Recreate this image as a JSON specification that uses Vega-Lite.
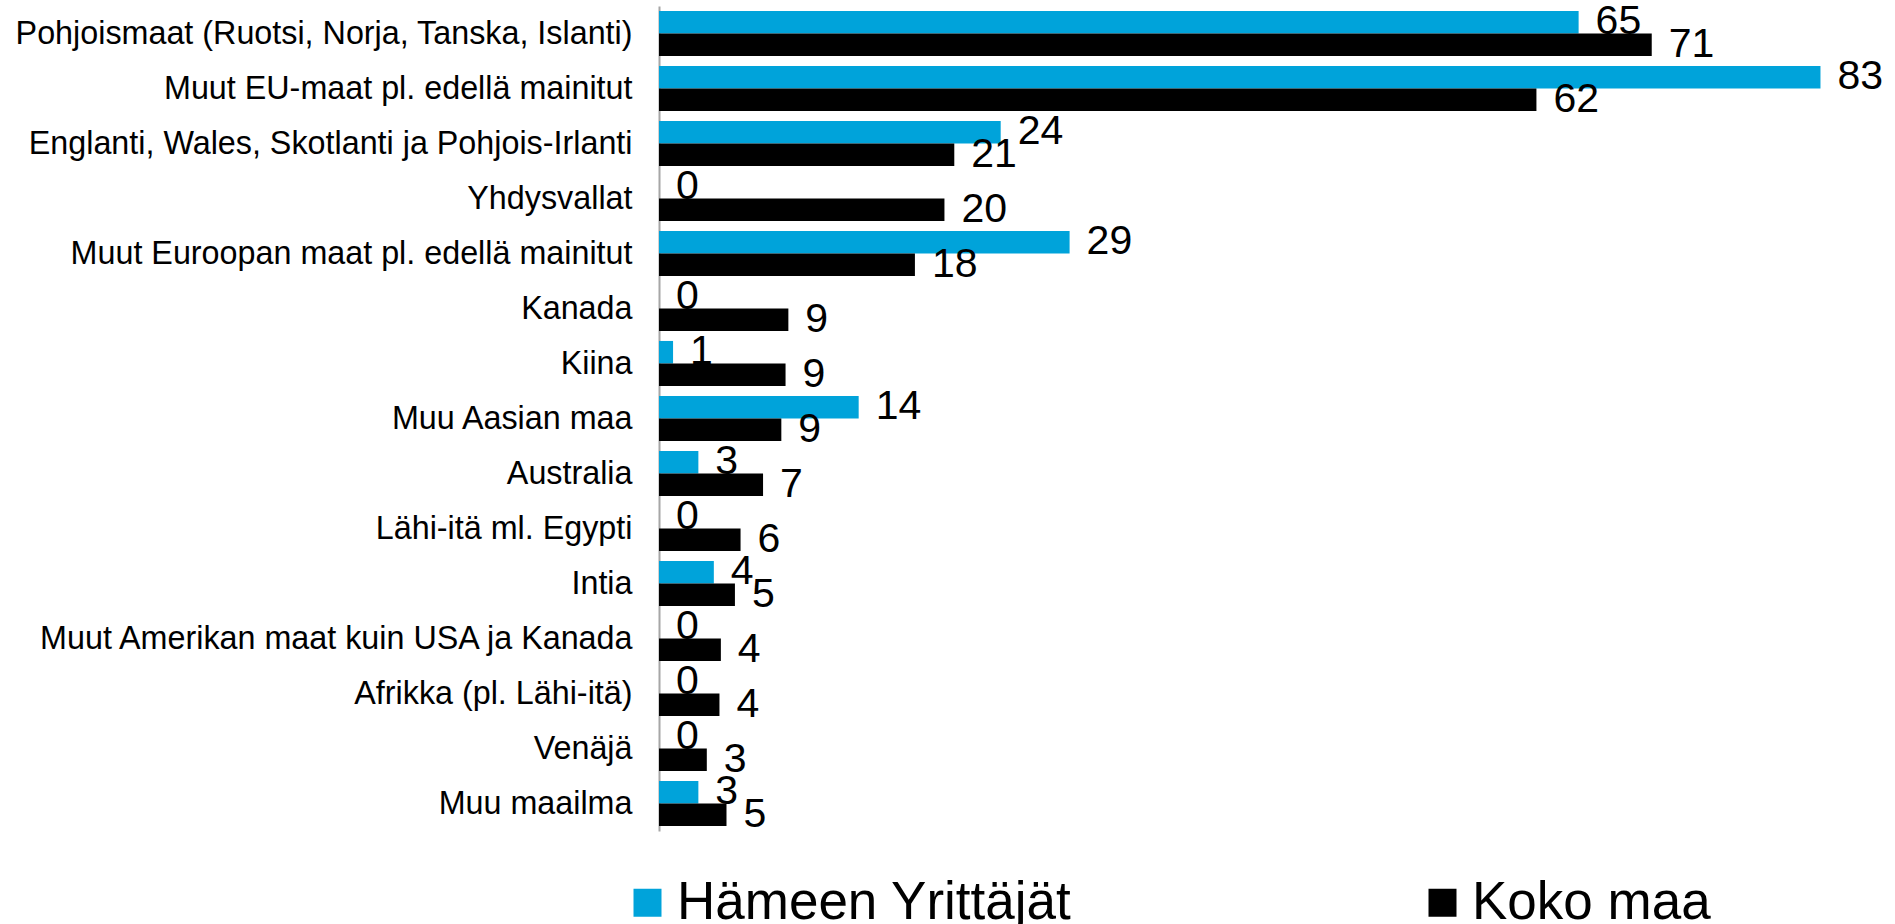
{
  "$schema": "https://vega.github.io/schema/vega-lite/v6.json",
  "width": 1236,
  "height": 825,
  "autosize": {"type": "none"},
  "padding": {"left": 659, "top": 6, "right": 0, "bottom": 93},
  "background": "#ffffff",
  "config": {"view": {"stroke": null}, "font": "Liberation Sans"},
  "data": {
    "values": [
      {"region": "Pohjoismaat (Ruotsi, Norja, Tanska, Islanti)", "series": "Hämeen Yrittäjät", "value": 65.4},
      {"region": "Pohjoismaat (Ruotsi, Norja, Tanska, Islanti)", "series": "Koko maa", "value": 70.6},
      {"region": "Muut EU-maat pl. edellä mainitut", "series": "Hämeen Yrittäjät", "value": 82.6},
      {"region": "Muut EU-maat pl. edellä mainitut", "series": "Koko maa", "value": 62.4},
      {"region": "Englanti, Wales, Skotlanti ja Pohjois-Irlanti", "series": "Hämeen Yrittäjät", "value": 24.3},
      {"region": "Englanti, Wales, Skotlanti ja Pohjois-Irlanti", "series": "Koko maa", "value": 21.0},
      {"region": "Yhdysvallat", "series": "Hämeen Yrittäjät", "value": 0},
      {"region": "Yhdysvallat", "series": "Koko maa", "value": 20.3},
      {"region": "Muut Euroopan maat pl. edellä mainitut", "series": "Hämeen Yrittäjät", "value": 29.2},
      {"region": "Muut Euroopan maat pl. edellä mainitut", "series": "Koko maa", "value": 18.2},
      {"region": "Kanada", "series": "Hämeen Yrittäjät", "value": 0},
      {"region": "Kanada", "series": "Koko maa", "value": 9.2},
      {"region": "Kiina", "series": "Hämeen Yrittäjät", "value": 1.0},
      {"region": "Kiina", "series": "Koko maa", "value": 9.0},
      {"region": "Muu Aasian maa", "series": "Hämeen Yrittäjät", "value": 14.2},
      {"region": "Muu Aasian maa", "series": "Koko maa", "value": 8.7},
      {"region": "Australia", "series": "Hämeen Yrittäjät", "value": 2.8},
      {"region": "Australia", "series": "Koko maa", "value": 7.4},
      {"region": "Lähi-itä ml. Egypti", "series": "Hämeen Yrittäjät", "value": 0},
      {"region": "Lähi-itä ml. Egypti", "series": "Koko maa", "value": 5.8},
      {"region": "Intia", "series": "Hämeen Yrittäjät", "value": 3.9},
      {"region": "Intia", "series": "Koko maa", "value": 5.4},
      {"region": "Muut Amerikan maat kuin USA ja Kanada", "series": "Hämeen Yrittäjät", "value": 0},
      {"region": "Muut Amerikan maat kuin USA ja Kanada", "series": "Koko maa", "value": 4.4},
      {"region": "Afrikka (pl. Lähi-itä)", "series": "Hämeen Yrittäjät", "value": 0},
      {"region": "Afrikka (pl. Lähi-itä)", "series": "Koko maa", "value": 4.3},
      {"region": "Venäjä", "series": "Hämeen Yrittäjät", "value": 0},
      {"region": "Venäjä", "series": "Koko maa", "value": 3.4},
      {"region": "Muu maailma", "series": "Hämeen Yrittäjät", "value": 2.8},
      {"region": "Muu maailma", "series": "Koko maa", "value": 4.8}
    ]
  },
  "encoding": {
    "y": {
      "field": "region",
      "type": "nominal",
      "sort": null,
      "scale": {"paddingInner": 0.18, "paddingOuter": 0.09},
      "axis": {
        "title": null,
        "ticks": false,
        "grid": false,
        "labelFontSize": 32.3,
        "labelColor": "#000000",
        "labelPadding": 27,
        "labelLimit": 0,
        "domainColor": "#A6A6A6",
        "domainWidth": 2
      }
    },
    "yOffset": {
      "field": "series",
      "type": "nominal",
      "scale": {"domain": ["Hämeen Yrittäjät", "Koko maa"], "paddingInner": 0, "paddingOuter": 0}
    },
    "x": {
      "field": "value",
      "type": "quantitative",
      "scale": {"domain": [0, 87.9], "nice": false, "zero": true},
      "axis": null
    }
  },
  "layer": [
    {
      "transform": [{"filter": "datum.series === 'Hämeen Yrittäjät'"}],
      "mark": {"type": "bar"},
      "encoding": {
        "color": {
          "field": "series",
          "type": "nominal",
          "scale": {"domain": ["Hämeen Yrittäjät", "Koko maa"], "range": ["#00A3DA", "#000000"]},
          "legend": {
            "orient": "none",
            "legendX": -38,
            "legendY": 870,
            "direction": "horizontal",
            "title": null,
            "padding": 0,
            "labelFontSize": 53,
            "labelColor": "#000000",
            "labelLimit": 0,
            "labelOffset": 3,
            "symbolType": "square",
            "symbolSize": 784,
            "symbolStrokeWidth": 0,
            "columnPadding": 344
          }
        }
      }
    },
    {
      "transform": [{"filter": "datum.series === 'Hämeen Yrittäjät'"}],
      "mark": {"type": "text", "align": "left", "baseline": "middle", "dx": 17, "fontSize": 41, "color": "#000000"},
      "encoding": {"text": {"field": "value", "type": "quantitative", "format": ".0f"}}
    },
    {
      "transform": [{"filter": "datum.series === 'Koko maa'"}],
      "mark": {"type": "bar"},
      "encoding": {
        "color": {
          "field": "series",
          "type": "nominal",
          "scale": {"domain": ["Hämeen Yrittäjät", "Koko maa"], "range": ["#00A3DA", "#000000"]}
        }
      }
    },
    {
      "transform": [{"filter": "datum.series === 'Koko maa'"}],
      "mark": {"type": "text", "align": "left", "baseline": "middle", "dx": 17, "fontSize": 41, "color": "#000000"},
      "encoding": {"text": {"field": "value", "type": "quantitative", "format": ".0f"}}
    }
  ]
}
